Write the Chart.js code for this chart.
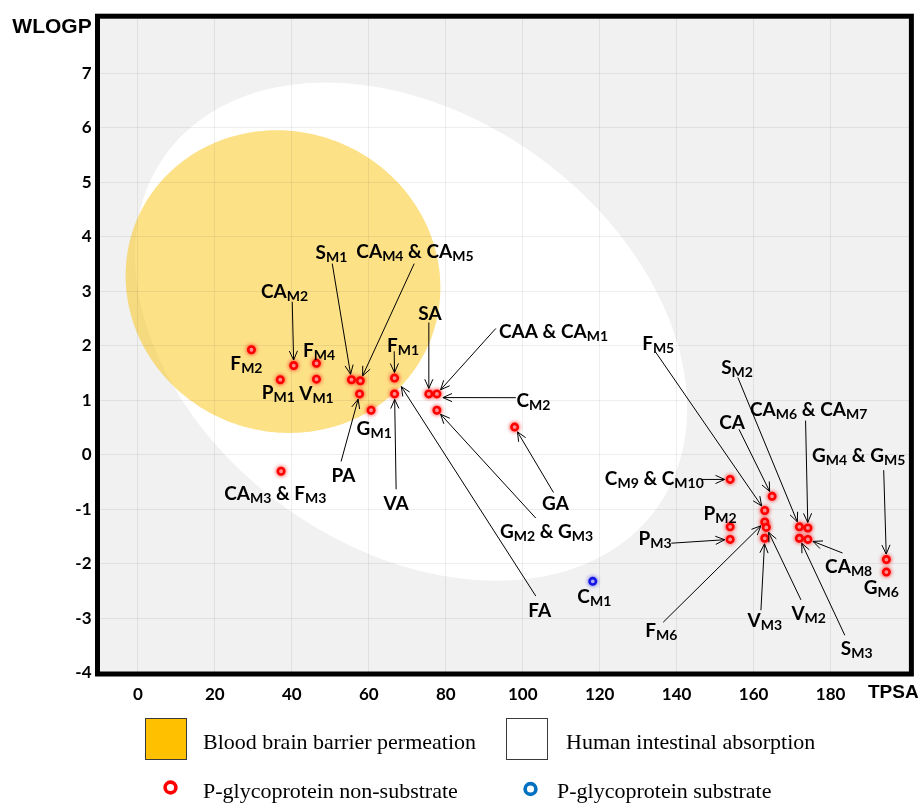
<!DOCTYPE html>
<html>
<head>
<meta charset="utf-8">
<title>BOILED-Egg: WLOGP vs TPSA</title>
<script src="https://cdn.jsdelivr.net/npm/chart.js@4.4.1/dist/chart.umd.min.js"></script>
<style>
  html, body { margin: 0; padding: 0; background: #ffffff; }
  canvas { display: block; }
</style>
</head>
<body>
<canvas id="egg" width="918" height="803"></canvas>
<script>
// ---- compounds that are P-glycoprotein non-substrates ----
const nonSubstrateNames = [
  'F_M2', 'CA_M2', 'F_M4', 'P_M1', 'V_M1', 'S_M1', 'CA_M4/CA_M5', 'PA', 'G_M1', 'F_M1',
  'VA', 'SA', 'CAA/CA_M1/C_M2', 'G_M2/G_M3', 'GA', 'CA_M3/F_M3', 'C_M9/C_M10', 'CA', 'F_M5', 'F_M6',
  'V_M2', 'V_M3', 'P_M2', 'P_M3', 'S_M2', 'CA_M6/CA_M7', 'S_M3', 'CA_M8', 'G_M4/G_M5', 'G_M6'
];
const nonSubstrateTPSA = [
  29.5, 40.5, 46.4, 37.0, 46.4, 55.5, 57.8, 57.6, 60.6, 66.7,
  66.7, 75.6, 77.7, 77.7, 97.9, 37.2, 153.9, 164.8, 162.9, 162.9,
  163.3, 162.9, 153.9, 153.9, 171.9, 174.1, 171.9, 174.1, 194.5, 194.5
];
const nonSubstrateWLOGP = [
  1.93, 1.64, 1.68, 1.38, 1.39, 1.38, 1.36, 1.12, 0.82, 1.41,
  1.12, 1.12, 1.12, 0.82, 0.51, -0.30, -0.45, -0.76, -1.02, -1.23,
  -1.33, -1.53, -1.32, -1.55, -1.32, -1.34, -1.53, -1.55, -1.92, -2.15
];

// ---- compounds that are P-glycoprotein substrates ----
const substrateNames = ['C_M1'];
const substrateTPSA = [118.2];
const substrateWLOGP = [-2.32];

// ---- axes ----
const xTicks = [0, 20, 40, 60, 80, 100, 120, 140, 160, 180];
const yTicks = [-4, -3, -2, -1, 0, 1, 2, 3, 4, 5, 6, 7];
const xTitle = 'TPSA';
const yTitle = 'WLOGP';

// ---- legend texts ----
const seriesLabels = ['P-glycoprotein non-substrate', 'P-glycoprotein substrate'];
const regionLabels = ['Blood brain barrier permeation', 'Human intestinal absorption'];

// ---- egg regions: centre and two conjugate semi-axes, in (TPSA, WLOGP) ----
const hiaCenter = [70.97, 2.262];
const hiaAxisA = [71.75, -1.412];
const hiaAxisB = [0, -4.346];
const bbbCenter = [37.7, 3.18];
const bbbAxisA = [40.9, -0.11];
const bbbAxisB = [0, -2.775];

// ---- annotation layout: label centre and arrow tail in axis units ----
// text uses {..} for subscripts; "to" names the compound the arrow points at
const callouts = [
  { text: 'F{M2}', at: [28.2, 1.69] },
  { text: 'CA{M2}', at: [38.1, 3.01], from: [40.1, 2.81], to: 'CA_M2' },
  { text: 'F{M4}', at: [47.1, 1.93] },
  { text: 'P{M1}', at: [36.5, 1.16] },
  { text: 'V{M1}', at: [46.4, 1.14] },
  { text: 'S{M1}', at: [50.3, 3.73], from: [50.5, 3.51], to: 'S_M1' },
  { text: 'CA{M4} & CA{M5}', at: [72.0, 3.75], from: [71.8, 3.51], to: 'CA_M4/CA_M5' },
  { text: 'SA', at: [75.9, 2.61], from: [75.6, 2.43], to: 'SA' },
  { text: 'F{M1}', at: [68.9, 2.02], from: [66.6, 1.90], to: 'F_M1' },
  { text: 'CAA & CA{M1}', at: [108.0, 2.28], from: [93.0, 2.32], to: 'CAA/CA_M1/C_M2' },
  { text: 'C{M2}', at: [102.8, 1.00], from: [98.2, 1.05], to: 'CAA/CA_M1/C_M2', nudge: [6, 3.7] },
  { text: 'G{M1}', at: [61.4, 0.49] },
  { text: 'PA', at: [53.4, -0.36], from: [52.8, -0.12], to: 'PA' },
  { text: 'VA', at: [67.1, -0.89], from: [67.1, -0.63], to: 'VA' },
  { text: 'FA', at: [104.4, -2.85], from: [103.4, -2.59], to: 'VA', nudge: [6.7, -7.3] },
  { text: 'G{M2} & G{M3}', at: [106.2, -1.40], from: [103.4, -1.16], to: 'G_M2/G_M3' },
  { text: 'GA', at: [108.5, -0.89], from: [108.0, -0.69], to: 'GA' },
  { text: 'CA{M3} & F{M3}', at: [35.7, -0.69] },
  { text: 'C{M1}', at: [118.6, -2.59] },
  { text: 'F{M5}', at: [135.2, 2.06], from: [134.4, 1.90], to: 'F_M5' },
  { text: 'S{M2}', at: [155.7, 1.62], from: [155.9, 1.42], to: 'S_M2' },
  { text: 'CA', at: [154.4, 0.61], from: [156.2, 0.47], to: 'CA' },
  { text: 'CA{M6} & CA{M7}', at: [174.3, 0.85], from: [173.5, 0.63], to: 'CA_M6/CA_M7' },
  { text: 'G{M4} & G{M5}', at: [187.3, -0.01], from: [193.8, -0.28], to: 'G_M4/G_M5' },
  { text: 'C{M9} & C{M10}', at: [134.2, -0.43], from: [146.4, -0.45], to: 'C_M9/C_M10' },
  { text: 'P{M2}', at: [151.3, -1.07] },
  { text: 'P{M3}', at: [134.4, -1.53], from: [138.6, -1.62], to: 'P_M3' },
  { text: 'CA{M8}', at: [184.7, -2.04], from: [183.1, -1.80], to: 'CA_M8' },
  { text: 'G{M6}', at: [193.2, -2.43] },
  { text: 'F{M6}', at: [136.0, -3.21], from: [136.5, -3.07], to: 'F_M6' },
  { text: 'V{M3}', at: [162.9, -3.03], from: [161.9, -2.85], to: 'V_M3' },
  { text: 'V{M2}', at: [174.3, -2.90], from: [172.3, -2.66], to: 'V_M2' },
  { text: 'S{M3}', at: [186.8, -3.54], from: [183.7, -3.31], to: 'S_M3' }
];

// ---- styling ----
const RED = '#ff0000';
const BLUE = '#1414e6';
const LABEL_FONT = 'Lato, "DejaVu Sans", sans-serif';

function toPoints(xs, ys) {
  return xs.map((x, i) => ({ x: x, y: ys[i] }));
}

// egg white, yolk and plot background, under the grid
const eggPlugin = {
  id: 'egg',
  beforeDraw(chart) {
    const { ctx, chartArea: a, scales } = chart;
    const xs = scales.x, ys = scales.y;
    ctx.save();
    ctx.beginPath();
    ctx.rect(a.left, a.top, a.right - a.left, a.bottom - a.top);
    ctx.clip();
    ctx.fillStyle = '#f1f1f1';
    ctx.fillRect(a.left, a.top, a.right - a.left, a.bottom - a.top);

    const ellipse = (c, A, B, fill) => {
      ctx.beginPath();
      const n = 240;
      for (let k = 0; k <= n; k++) {
        const t = (k / n) * Math.PI * 2;
        const px = xs.getPixelForValue(c[0] + A[0] * Math.cos(t) + B[0] * Math.sin(t));
        const py = ys.getPixelForValue(c[1] + A[1] * Math.cos(t) + B[1] * Math.sin(t));
        if (k === 0) ctx.moveTo(px, py); else ctx.lineTo(px, py);
      }
      ctx.closePath();
      ctx.fillStyle = fill;
      ctx.fill();
    };
    ellipse(hiaCenter, hiaAxisA, hiaAxisB, '#ffffff');
    ellipse(bbbCenter, bbbAxisA, bbbAxisB, 'rgba(251,192,0,0.47)');
    ctx.restore();
  }
};

// soft halo round the markers
const glowPlugin = {
  id: 'glow',
  beforeDatasetDraw(chart, args) {
    const ctx = chart.ctx;
    ctx.save();
    ctx.shadowColor = args.index === 0 ? 'rgba(255,0,0,0.75)' : 'rgba(20,20,230,0.6)';
    ctx.shadowBlur = 4;
  },
  afterDatasetDraw(chart) {
    chart.ctx.restore();
  }
};

function drawRich(ctx, str, cx, cy) {
  const parts = [];
  const re = /([^{]+)|\{([^}]*)\}/g;
  let m;
  while ((m = re.exec(str)) !== null) {
    if (m[1] !== undefined) parts.push({ t: m[1], sub: false });
    else parts.push({ t: m[2], sub: true });
  }
  const mainFont = 'bold 19px ' + LABEL_FONT;
  const subFont = 'bold 14px ' + LABEL_FONT;
  let w = 0;
  parts.forEach(p => {
    ctx.font = p.sub ? subFont : mainFont;
    p.w = ctx.measureText(p.t).width;
    w += p.w;
  });
  let x = cx - w / 2;
  const base = cy + 7;
  ctx.textAlign = 'left';
  ctx.textBaseline = 'alphabetic';
  parts.forEach(p => {
    ctx.font = p.sub ? subFont : mainFont;
    ctx.fillText(p.t, x, p.sub ? base + 3 : base);
    x += p.w;
  });
}

function drawArrow(ctx, x0, y0, x1, y1) {
  ctx.beginPath();
  ctx.moveTo(x0, y0);
  ctx.lineTo(x1, y1);
  const ang = Math.atan2(y1 - y0, x1 - x0);
  const L = 10, s = 0.42;
  ctx.moveTo(x1 - L * Math.cos(ang - s), y1 - L * Math.sin(ang - s));
  ctx.lineTo(x1, y1);
  ctx.lineTo(x1 - L * Math.cos(ang + s), y1 - L * Math.sin(ang + s));
  ctx.stroke();
}

// compound labels with their arrows
const calloutPlugin = {
  id: 'callouts',
  afterDatasetsDraw(chart) {
    const { ctx, scales } = chart;
    const xs = scales.x, ys = scales.y;
    ctx.save();
    ctx.fillStyle = '#000';
    ctx.strokeStyle = '#000';
    ctx.lineWidth = 1;
    callouts.forEach(c => {
      if (c.from && c.to) {
        const i = nonSubstrateNames.indexOf(c.to);
        const tx = xs.getPixelForValue(nonSubstrateTPSA[i]);
        const ty = ys.getPixelForValue(nonSubstrateWLOGP[i]);
        const fx = xs.getPixelForValue(c.from[0]);
        const fy = ys.getPixelForValue(c.from[1]);
        let hx, hy;
        if (c.nudge) {
          hx = tx + c.nudge[0];
          hy = ty + c.nudge[1];
        } else {
          const d = Math.hypot(tx - fx, ty - fy);
          hx = tx - (tx - fx) / d * 5.5;
          hy = ty - (ty - fy) / d * 5.5;
        }
        drawArrow(ctx, fx, fy, hx, hy);
      }
      drawRich(ctx, c.text, xs.getPixelForValue(c.at[0]), ys.getPixelForValue(c.at[1]));
    });
    ctx.restore();
  }
};

// heavy frame, axis titles and the legend block
const framePlugin = {
  id: 'frame',
  afterDraw(chart) {
    const { ctx, chartArea: a } = chart;
    ctx.save();
    ctx.strokeStyle = '#000';
    ctx.lineWidth = 5;
    ctx.strokeRect(a.left, a.top, a.right - a.left, a.bottom - a.top);

    ctx.fillStyle = '#000';
    ctx.font = 'bold 21px "Liberation Sans", Arial, sans-serif';
    ctx.textAlign = 'center';
    ctx.textBaseline = 'alphabetic';
    ctx.fillText(yTitle, 52, 33);
    ctx.font = 'bold 19px "Liberation Sans", Arial, sans-serif';
    ctx.textAlign = 'left';
    ctx.fillText(xTitle, 868, 698);

    // legend: regions
    ctx.lineWidth = 1;
    ctx.strokeStyle = '#3a3a3a';
    ctx.fillStyle = '#ffc000';
    ctx.fillRect(145.5, 718.5, 41, 41);
    ctx.strokeRect(145.5, 718.5, 41, 41);
    ctx.fillStyle = '#ffffff';
    ctx.fillRect(506.5, 718.5, 41, 41);
    ctx.strokeRect(506.5, 718.5, 41, 41);

    ctx.fillStyle = '#000';
    ctx.font = '22px "Liberation Serif", "Times New Roman", serif';
    ctx.fillText(regionLabels[0], 203, 749);
    ctx.fillText(regionLabels[1], 566, 749);

    // legend: series markers
    ctx.lineWidth = 3.6;
    ctx.strokeStyle = RED;
    ctx.beginPath();
    ctx.arc(170.5, 787.5, 5.4, 0, Math.PI * 2);
    ctx.stroke();
    ctx.strokeStyle = '#0070c0';
    ctx.beginPath();
    ctx.arc(530.5, 789, 5.4, 0, Math.PI * 2);
    ctx.stroke();

    ctx.fillStyle = '#000';
    ctx.fillText(seriesLabels[0], 203, 798);
    ctx.fillText(seriesLabels[1], 557, 798);
    ctx.restore();
  }
};

const gridStyle = { color: 'rgba(0,0,0,0.065)', lineWidth: 1, drawTicks: false };
const tickFont = { family: LABEL_FONT, size: 17, weight: 'bold' };

new Chart(document.getElementById('egg'), {
  type: 'scatter',
  data: {
    datasets: [
      {
        label: seriesLabels[0],
        data: toPoints(nonSubstrateTPSA, nonSubstrateWLOGP),
        pointRadius: 3.2,
        pointBorderWidth: 2.6,
        pointBackgroundColor: '#ffffff',
        pointBorderColor: RED
      },
      {
        label: seriesLabels[1],
        data: toPoints(substrateTPSA, substrateWLOGP),
        pointRadius: 3.2,
        pointBorderWidth: 2.6,
        pointBackgroundColor: '#ffffff',
        pointBorderColor: BLUE
      }
    ]
  },
  options: {
    responsive: false,
    animation: false,
    devicePixelRatio: 1,
    events: [],
    layout: { padding: { left: 0, top: 15, right: 4, bottom: 0 } },
    plugins: { legend: { display: false }, tooltip: { enabled: false } },
    scales: {
      x: {
        type: 'linear',
        min: -10.5,
        max: 201,
        afterBuildTicks: s => { s.ticks = xTicks.map(v => ({ value: v })); },
        afterFit: s => { s.height = 129; },
        grid: gridStyle,
        border: { display: false },
        ticks: { padding: 10, color: '#000', font: tickFont, maxRotation: 0, autoSkip: false }
      },
      y: {
        type: 'linear',
        min: -4.02,
        max: 8.05,
        afterBuildTicks: s => { s.ticks = yTicks.map(v => ({ value: v })); },
        afterFit: s => { s.width = 97.5; },
        grid: gridStyle,
        border: { display: false },
        ticks: { padding: 6, color: '#000', font: tickFont, autoSkip: false }
      }
    }
  },
  plugins: [eggPlugin, glowPlugin, calloutPlugin, framePlugin]
});
</script>
</body>
</html>
